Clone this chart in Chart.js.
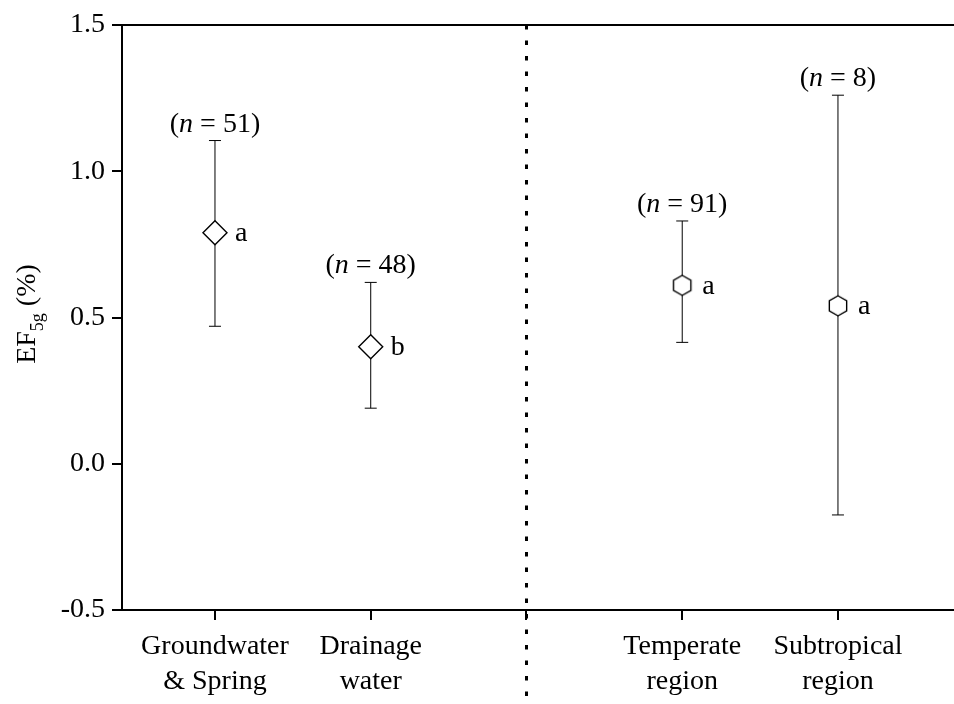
<!DOCTYPE html>
<html>
<head>
<meta charset="utf-8">
<script src="https://cdn.jsdelivr.net/npm/chart.js@4.4.1/dist/chart.umd.min.js"></script>
<style>
  body { margin: 0; background: #fff; }
  #wrap { width: 954px; height: 704px; }
</style>
</head>
<body>
<div id="wrap"><canvas id="efChart" width="954" height="704"></canvas></div>
<script>
// Données
const categories = [['Groundwater', '& Spring'], ['Drainage', 'water'], ['Temperate', 'region'], ['Subtropical', 'region']];
const slots = [1, 2, 4, 5];          // place de chaque catégorie sur l'axe x (3 = séparateur)
const dividerSlot = 3;
const means = [0.79, 0.40, 0.61, 0.54];
const upper = [1.105, 0.62, 0.83, 1.26];
const lower = [0.47, 0.19, 0.415, -0.175];
const counts = [51, 48, 91, 8];
const letters = ['a', 'b', 'a', 'a'];
const markers = ['diamond', 'diamond', 'hexagon', 'hexagon'];
const yTicks = [-0.5, 0.0, 0.5, 1.0, 1.5];

const FONT = '"Liberation Serif", "Times New Roman", serif';

// Hexagone dessiné sur un petit canvas (pas de pointStyle natif)
function makeHexagon(r) {
    const c = document.createElement('canvas');
    const s = Math.ceil(r * 2 + 4);
    c.width = s; c.height = s;
    const g = c.getContext('2d');
    g.beginPath();
    for (let i = 0; i < 6; i++) {
        const a = -Math.PI / 2 + i * Math.PI / 3;
        const px = s / 2 + r * Math.cos(a), py = s / 2 + r * Math.sin(a);
        if (i === 0) g.moveTo(px, py); else g.lineTo(px, py);
    }
    g.closePath();
    g.fillStyle = '#fff';
    g.fill();
    g.lineWidth = 1.4;
    g.strokeStyle = '#000';
    g.stroke();
    return c;
}
const hexImg = makeHexagon(10);

const slotLabel = {};
slots.forEach((s, i) => { slotLabel[s] = categories[i]; });

// Jeu de points des moyennes
const meanDataset = {
    label: 'mean',
    data: means.map((m, i) => ({ x: slots[i], y: m })),
    showLine: false,
    pointStyle: markers.map(m => m === 'diamond' ? 'rectRot' : hexImg),
    pointRadius: 12,
    pointBackgroundColor: '#fff',
    pointBorderColor: '#000',
    pointBorderWidth: 1.4
};

// Barres d'erreur : un segment par catégorie, capuchons en 'line'
const errorDatasets = slots.map((s, i) => ({
    label: 'err' + i,
    data: [{ x: s, y: lower[i] }, { x: s, y: upper[i] }],
    showLine: true,
    borderColor: '#000',
    borderWidth: 1,
    pointStyle: 'line',
    pointRadius: 6,
    pointBorderColor: '#000',
    pointBorderWidth: 1
}));

const annotations = {
    id: 'annotations',
    afterDatasetsDraw(chart) {
        const { ctx, scales: { x, y }, chartArea } = chart;
        ctx.save();

        // cadre du haut
        ctx.strokeStyle = '#000';
        ctx.lineWidth = 2;
        ctx.beginPath();
        ctx.moveTo(chartArea.left, chartArea.top);
        ctx.lineTo(chart.width, chartArea.top);
        ctx.stroke();

        // séparateur pointillé
        const dx = Math.round(x.getPixelForValue(dividerSlot)) + 0.5;
        ctx.lineWidth = 3;
        ctx.setLineDash([4.5, 11]);
        ctx.beginPath();
        ctx.moveTo(dx, chartArea.top);
        ctx.lineTo(dx, chart.height);
        ctx.stroke();
        ctx.setLineDash([]);

        ctx.fillStyle = '#000';
        slots.forEach((s, i) => {
            const px = x.getPixelForValue(s);
            // (n = ..)
            const parts = [
                { t: '(', f: '28px ' + FONT },
                { t: 'n', f: 'italic 28px ' + FONT },
                { t: ' = ' + counts[i] + ')', f: '28px ' + FONT }
            ];
            let total = 0;
            parts.forEach(p => { ctx.font = p.f; p.w = ctx.measureText(p.t).width; total += p.w; });
            let cx = px - total / 2;
            const by = y.getPixelForValue(upper[i]) - 9;
            ctx.textBaseline = 'alphabetic';
            ctx.textAlign = 'left';
            parts.forEach(p => { ctx.font = p.f; ctx.fillText(p.t, cx, by); cx += p.w; });

            // lettre de groupe
            ctx.font = '28px ' + FONT;
            ctx.textBaseline = 'middle';
            ctx.fillText(letters[i], px + 20, y.getPixelForValue(means[i]) + 1);
        });

        // titre de l'axe y avec indice
        ctx.translate(35, 314);
        ctx.rotate(-Math.PI / 2);
        ctx.textBaseline = 'alphabetic';
        const tParts = [
            { t: 'EF', f: '28px ' + FONT, dy: 0 },
            { t: '5g', f: '18px ' + FONT, dy: 8 },
            { t: ' (%)', f: '28px ' + FONT, dy: 0 }
        ];
        let tw = 0;
        tParts.forEach(p => { ctx.font = p.f; p.w = ctx.measureText(p.t).width; tw += p.w; });
        let tx = -tw / 2;
        tParts.forEach(p => { ctx.font = p.f; ctx.fillText(p.t, tx, p.dy); tx += p.w; });
        ctx.restore();
    }
};

new Chart(document.getElementById('efChart'), {
    type: 'scatter',
    data: { datasets: [meanDataset, ...errorDatasets] },
    options: {
        responsive: false,
        animation: false,
        layout: { autoPadding: false, padding: { top: 25, right: 0, left: 0, bottom: 0 } },
        plugins: {
            legend: { display: false },
            tooltip: { enabled: false }
        },
        scales: {
            x: {
                type: 'linear',
                min: 0.403,
                max: 5.745,
                afterBuildTicks(scale) {
                    scale.ticks = [...slots, dividerSlot].sort().map(v => ({ value: v }));
                },
                afterFit(scale) { scale.height = 94; },
                ticks: {
                    autoSkip: false,
                    maxRotation: 0,
                    padding: 9,
                    color: '#000',
                    font: { family: FONT, size: 28, lineHeight: 1.25 },
                    callback: v => slotLabel[v] || ''
                },
                grid: {
                    drawOnChartArea: false,
                    drawTicks: true,
                    tickLength: 10,
                    color: '#000',
                    lineWidth: 2
                },
                border: { display: true, color: '#000', width: 2 }
            },
            y: {
                min: -0.5,
                max: 1.5,
                afterBuildTicks(scale) {
                    scale.ticks = yTicks.map(v => ({ value: v }));
                },
                afterFit(scale) { scale.width = 122; },
                ticks: {
                    padding: 7,
                    color: '#000',
                    font: { family: FONT, size: 28 },
                    callback: v => v.toFixed(1)
                },
                grid: {
                    drawOnChartArea: false,
                    drawTicks: true,
                    tickLength: 10,
                    color: '#000',
                    lineWidth: 2
                },
                border: { display: true, color: '#000', width: 2 }
            }
        }
    },
    plugins: [annotations]
});
</script>
</body>
</html>
